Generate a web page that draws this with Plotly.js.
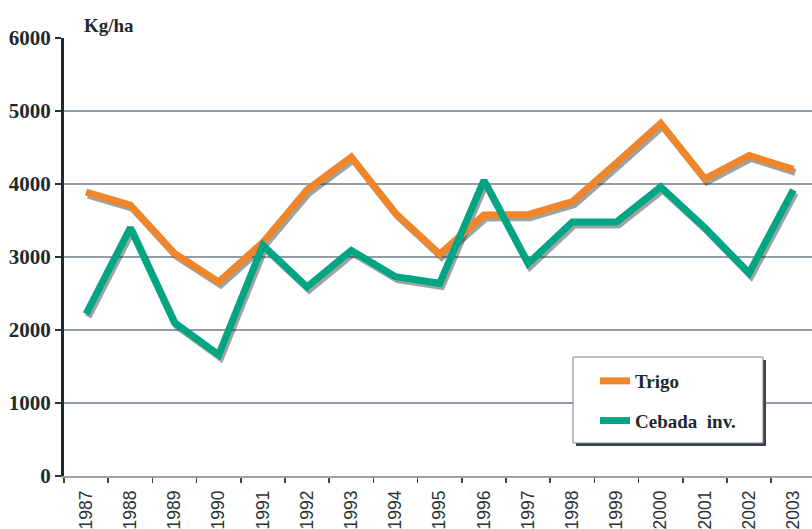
<!DOCTYPE html>
<html>
<head>
<meta charset="utf-8">
<script src="https://cdn.plot.ly/plotly-3.0.1.min.js"></script>
<style>html,body{margin:0;padding:0;background:#fff;}#chart{width:812px;height:529px;}</style>
</head>
<body>
<div id="chart"></div>
<script>
const years = ['1987','1988','1989','1990','1991','1992','1993','1994','1995','1996','1997','1998','1999','2000','2001','2002','2003'];
const trigo = [3890, 3710, 3050, 2660, 3200, 3920, 4370, 3600, 3040, 3575, 3580, 3760, 4290, 4830, 4070, 4390, 4200];
const cebada = [2220, 3400, 2100, 1660, 3160, 2590, 3090, 2730, 2640, 4050, 2910, 3480, 3480, 3960, 3400, 2780, 3920];
const seriesNames = ['Trigo', 'Cebada  inv.'];
const yTicks = [0, 1000, 2000, 3000, 4000, 5000, 6000];

const ORANGE = '#F0852A';
const TEAL = '#00A583';
const SHADOW = 'rgba(35,50,50,0.45)';

const catW = 44.2;           // px per category
const plotW = 748;           // px
const pxPerUnit = 438 / 6000;
const xr = [-0.5, -0.5 + plotW / catW];
const dx = 2 / catW, dy = 3 / pxPerUnit;

const traces = [
  {x: years, y: trigo, type: 'scatter', mode: 'lines', xaxis: 'x', yaxis: 'y',
   line: {color: SHADOW, width: 7}, showlegend: false, hoverinfo: 'skip'},
  {x: years, y: cebada, type: 'scatter', mode: 'lines', xaxis: 'x', yaxis: 'y',
   line: {color: SHADOW, width: 7}, showlegend: false, hoverinfo: 'skip'},
  {x: years, y: trigo, type: 'scatter', mode: 'lines', name: seriesNames[0], legendgroup: 'a',
   xaxis: 'x2', yaxis: 'y2', line: {color: ORANGE, width: 7}},
  {x: years, y: cebada, type: 'scatter', mode: 'lines', name: seriesNames[1], legendgroup: 'b',
   xaxis: 'x2', yaxis: 'y2', line: {color: TEAL, width: 7}}
];

const layout = {
  width: 812, height: 529,
  margin: {l: 64, r: 0, t: 38, b: 53},
  paper_bgcolor: '#fff', plot_bgcolor: '#fff',
  showlegend: true,
  // hidden base axes: carry the offset shadow lines
  xaxis: {type: 'category', range: [xr[0] - dx, xr[1] - dx], visible: false, automargin: false},
  yaxis: {range: [dy, 6000 + dy], visible: false, automargin: false},
  // visible axes
  xaxis2: {
    type: 'category', overlaying: 'x', anchor: 'y2', side: 'bottom', range: xr, automargin: false,
    tickangle: -90, tickson: 'boundaries', ticks: 'outside', ticklen: 5, tickwidth: 1.5,
    tickcolor: '#3a4448', ticklabelstandoff: 6,
    tickfont: {family: 'Liberation Sans, Arial, sans-serif', size: 17.5, color: '#2a3438'},
    showline: true, linecolor: '#9aa1a8', linewidth: 1.5,
    showgrid: false, zeroline: false
  },
  yaxis2: {
    overlaying: 'y', anchor: 'x2', side: 'left',
    range: [0, 6000], tickvals: yTicks, automargin: false,
    ticks: 'outside', ticklen: 6, tickwidth: 1.5, tickcolor: '#2a3438',
    tickfont: {family: 'Liberation Serif, Times New Roman, serif', size: 21, color: '#1e2a2e', weight: 'bold'},
    showline: true, linecolor: '#1e2a2e', linewidth: 3,
    showgrid: true, gridcolor: '#949ca4', gridwidth: 1.5, zeroline: false
  },
  legend: {
    x: (595 - 64) / plotW, y: (476 - 362) / 438, xanchor: 'left', yanchor: 'top',
    bgcolor: 'rgba(0,0,0,0)', borderwidth: 0,
    font: {family: 'Liberation Serif, Times New Roman, serif', size: 19, color: '#1e2a2e', weight: 'bold'},
    traceorder: 'grouped', tracegroupgap: 12
  },
  shapes: [
    {type: 'rect', xref: 'paper', yref: 'paper', layer: 'above',
     x0: (576 - 64) / plotW, x1: (766 - 64) / plotW, y0: (476 - 446) / 438, y1: (476 - 360) / 438,
     fillcolor: '#3a4448', line: {width: 0}},
    {type: 'rect', xref: 'paper', yref: 'paper', layer: 'above',
     x0: (573 - 64) / plotW, x1: (763 - 64) / plotW, y0: (476 - 443) / 438, y1: (476 - 357) / 438,
     fillcolor: '#ffffff', line: {color: '#7a8488', width: 1}}
  ],
  annotations: [
    {text: 'Kg/ha', xref: 'paper', yref: 'paper', x: (82 - 64) / plotW, y: (476 - 25) / 438,
     xanchor: 'left', yanchor: 'middle', showarrow: false,
     font: {family: 'Liberation Serif, Times New Roman, serif', size: 19, color: '#1e2a2e', weight: 'bold'}}
  ]
};

Plotly.newPlot('chart', traces, layout, {displayModeBar: false, staticPlot: true});
</script>
</body>
</html>
